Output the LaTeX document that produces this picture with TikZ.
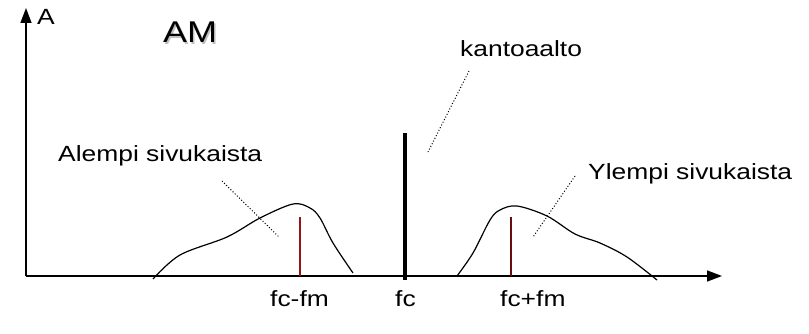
\documentclass[tikz,border=0pt]{standalone}
\usepackage{fontspec}
\setmainfont{Liberation Sans}[FakeStretch=1.2]
\usepackage{xcolor}
\usepackage{tikz}
\usetikzlibrary{arrows.meta}
\definecolor{sideband}{RGB}{150,20,20}
\tikzstyle{label} = [inner sep=0pt, anchor=base west, font=\fontsize{22}{26}\selectfont]
\tikzstyle{axis} = [draw, line width=1.4pt, -{Triangle[length=15pt, width=11pt]}]
\tikzstyle{lead} = [draw, dotted, line width=1pt]
\tikzstyle{band} = [draw, line width=1.2pt]
\tikzstyle{line} = [draw, line width=1.3pt, sideband]

\begin{document}
\begin{tikzpicture}[x=1pt, y=-1pt]
    \useasboundingbox (0,0) rectangle (809,334);
    \coordinate (origin) at (26,276);
    \coordinate (ytop) at (26,8);
    \coordinate (xend) at (722,276);

    \draw [axis] (origin) -- (ytop);
    \draw [axis] (origin) -- (xend);

    \node (alabel) [label] at (37,25) {A};
    \node (amshadow) [label, font=\fontsize{30}{34}\selectfont, gray!50] at (164.5,44.5) {AM};
    \node (am) [label, font=\fontsize{30}{34}\selectfont] at (163,43) {AM};

    % kantoaalto
    \coordinate (cbot) at (405,280);
    \coordinate (ctop) at (405,133);
    \draw [line width=4pt] (cbot) -- (ctop);
    \node (carrier) [label] at (460,57) {kantoaalto};
    \coordinate (c1) at (469,71);
    \coordinate (c2) at (428,152);
    \draw [lead] (c1) -- (c2);

    % sivukaistat
    \draw [band] plot [smooth, tension=0.55] coordinates {(153,279) (180,255) (227,237) (260,218) (293,204) (310,208) (320,218) (333,243) (353,273)};
    \draw [band] plot [smooth, tension=0.55] coordinates {(457,276) (473,253) (490,220) (500,210) (517,206) (547,216) (575,234) (600,243) (627,257) (657,280)};

    \coordinate (l1) at (300,276);
    \coordinate (l2) at (300,217);
    \draw [line] (l1) -- (l2);
    \coordinate (r1) at (511,276);
    \coordinate (r2) at (511,217);
    \draw [line, sideband!70!black] (r1) -- (r2);

    \node (lower) [label] at (58,161) {Alempi sivukaista};
    \coordinate (a1) at (222,181);
    \coordinate (a2) at (279,237);
    \draw [lead] (a1) -- (a2);
    \node (upper) [label] at (588,180) {Ylempi sivukaista};
    \coordinate (b1) at (575,176);
    \coordinate (b2) at (533,237);
    \draw [lead] (b1) -- (b2);

    \node (fcfm) [label] at (270,306) {fc-fm};
    \node (fc) [label] at (395,306) {fc};
    \node (fcpfm) [label] at (500,306) {fc+fm};
\end{tikzpicture}
\end{document}
